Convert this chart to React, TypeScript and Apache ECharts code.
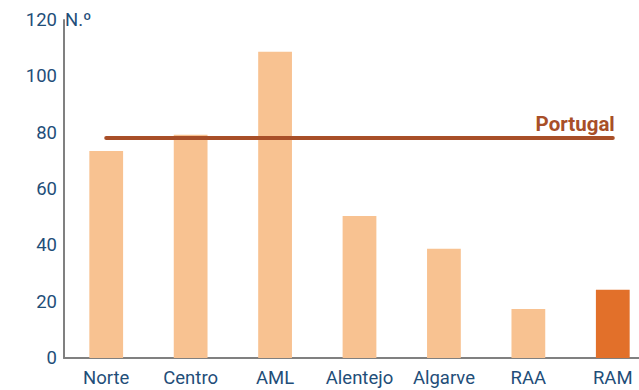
import React, { useEffect, useRef } from "react";
import * as echarts from "echarts";

const categories = ["Norte", "Centro", "AML", "Alentejo", "Algarve", "RAA", "RAM"];
const values = [73.5, 79.3, 108.7, 50.4, 38.8, 17.4, 24.2];
const portugalValue = 78.1;
const yTicks = [0, 20, 40, 60, 80, 100, 120];

export default function App() {
  const ref = useRef<HTMLDivElement>(null);
  useEffect(() => {
    const chart = echarts.init(ref.current!, null, { renderer: "svg" });
    const blue = "#1f4e79";
    chart.setOption({
      animation: false,
      backgroundColor: "#ffffff",
      grid: { left: 64, top: 20, width: 591, height: 338, containLabel: false, outerBoundsMode: "none" },
      xAxis: {
        type: "category",
        data: categories,
        axisLine: { lineStyle: { color: "#808080", width: 2 } },
        axisTick: { show: false },
        axisLabel: { color: blue, fontSize: 18.5, fontFamily: "Roboto", margin: 10, interval: 0, hideOverlap: false },
      },
      yAxis: {
        type: "value",
        min: yTicks[0],
        max: yTicks[yTicks.length - 1],
        interval: 20,
        name: "N.º",
        nameGap: 0,
        nameTextStyle: { color: blue, fontSize: 18.5, fontFamily: "Roboto", align: "left", verticalAlign: "middle", padding: [0, 0, 0, 1] },
        axisLine: { show: true, lineStyle: { color: "#808080", width: 2 } },
        axisTick: { show: false },
        splitLine: { show: false },
        axisLabel: { color: blue, fontSize: 18.5, fontFamily: "Roboto", margin: 7 },
      },
      series: [
        {
          type: "bar",
          data: values.map((v, i) => ({
            value: v,
            itemStyle: { color: i === values.length - 1 ? "#e2702a" : "#f8c291" },
          })),
          barWidth: "40%",
        },
        {
          type: "line",
          data: categories.map((_, i) => ({
            value: portugalValue,
            label:
              i === categories.length - 1
                ? {
                    show: true,
                    formatter: "Portugal",
                    position: "top",
                    align: "right",
                    distance: 4,
                    offset: [2, 0],
                    color: "#a84f28",
                    fontSize: 20.5,
                    fontWeight: "bold",
                    fontFamily: "Roboto",
                  }
                : { show: false },
          })),
          symbol: "circle",
          symbolSize: 0,
          showSymbol: true,
          lineStyle: { color: "#a84f28", width: 4, cap: "round" },
          z: 5,
        },
      ],
    });
    return () => chart.dispose();
  }, []);
  return (
    <div style={{ position: "fixed", left: 0, top: 0, width: 639, height: 390, overflow: "hidden" }}>
      <div ref={ref} style={{ width: 639, height: 390 }} />
    </div>
  );
}
